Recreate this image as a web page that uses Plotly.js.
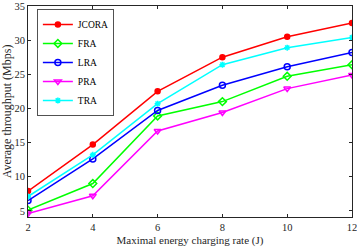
<!DOCTYPE html>
<html><head><meta charset="utf-8">
<script src="https://cdn.plot.ly/plotly-3.0.1.min.js"></script>
<style>html,body{margin:0;padding:0;background:#fff}#c{width:357px;height:247px}</style>
</head><body><div id="c"></div>
<script>
const xVals = [2, 4, 6, 8, 10, 12];
const jcora = [7.9, 14.7, 22.5, 27.5, 30.5, 32.5];
const fra = [5.1, 9.0, 18.9, 21.0, 24.7, 26.4];
const lra = [6.5, 12.6, 19.7, 23.4, 26.1, 28.2];
const pra = [4.6, 7.2, 16.7, 19.4, 22.9, 24.9];
const tra = [7.1, 13.2, 20.7, 26.4, 28.9, 30.4];
const seriesNames = ['JCORA', 'FRA', 'LRA', 'PRA', 'TRA'];
const xTicks = [2, 4, 6, 8, 10, 12];
const yTicks = [5, 10, 15, 20, 25, 30, 35];

const data = [jcora, fra, lra, pra, tra];
const colors = ['#ff0000', '#00ff00', '#0000ff', '#ff00ff', '#00ffff'];
const symbols = ['circle', 'diamond-open', 'circle-open', 'triangle-down-open', 'asterisk-open'];
const sizes = [5, 6, 6, 6, 5];
const traces = data.map((y, i) => ({
  x: xVals, y: y, name: seriesNames[i], type: 'scatter', mode: 'lines+markers',
  line: {color: colors[i], width: 1.5},
  marker: {symbol: symbols[i], size: sizes[i], color: colors[i], line: {color: colors[i], width: 1.5}}
}));
const font = {family: 'Liberation Serif, Times New Roman, serif', size: 10.5, color: '#262626'};
const layout = {
  width: 357, height: 247,
  margin: {l: 28, r: 5, t: 6, b: 30},
  paper_bgcolor: '#fff', plot_bgcolor: '#fff',
  font: font,
  showlegend: true,
  legend: {x: 0.028, y: 0.985, xanchor: 'left', yanchor: 'top', bgcolor: '#fff',
    bordercolor: '#262626', borderwidth: 0.8, font: {family: font.family, size: 9.5, color: '#000'},
    tracegroupgap: 0, itemwidth: 30},
  xaxis: {range: [2, 12], tickvals: xTicks, ticks: 'inside', ticklen: 3, tickcolor: '#262626',
    showline: true, linecolor: '#262626', linewidth: 1, mirror: 'ticks', showgrid: false, zeroline: false,
    ticklabeloverflow: 'allow',
    title: {text: 'Maximal energy charging rate (J)', font: {family: font.family, size: 11, color: '#262626'}, standoff: 4},
    tickfont: font},
  yaxis: {range: [4.1, 35], tickvals: yTicks, ticks: 'inside', ticklen: 3, tickcolor: '#262626',
    showline: true, linecolor: '#262626', linewidth: 1, mirror: 'ticks', showgrid: false, zeroline: false,
    ticklabeloverflow: 'allow',
    title: {text: 'Average throughput (Mbps)', font: {family: font.family, size: 12, color: '#262626'}, standoff: 1},
    tickfont: font}
};
Plotly.newPlot('c', traces, layout, {displayModeBar: false, staticPlot: true});
</script></body></html>
